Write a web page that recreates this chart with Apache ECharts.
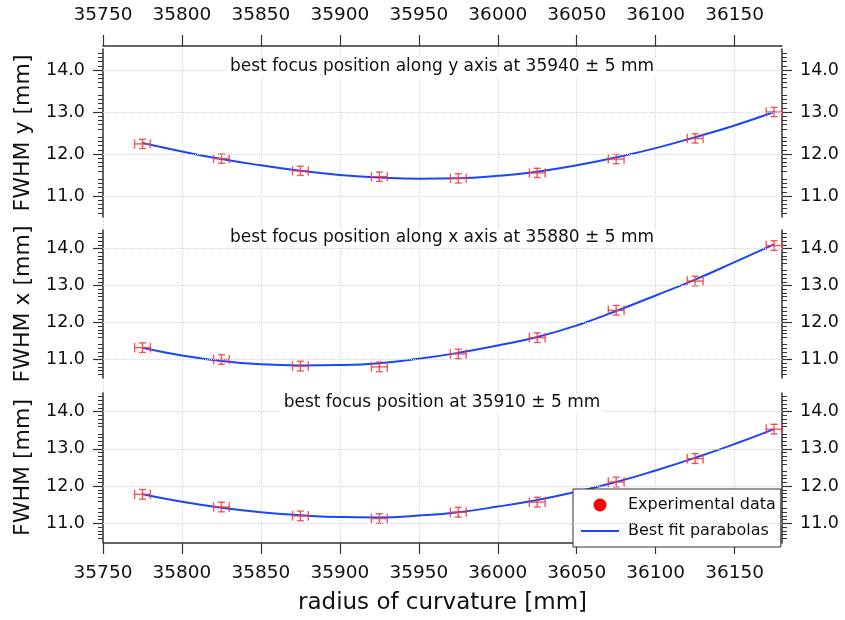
<!DOCTYPE html>
<html>
<head>
<meta charset="utf-8">
<script src="https://cdn.jsdelivr.net/npm/echarts@6/dist/echarts.min.js"></script>
<style>
  html, body { margin: 0; padding: 0; background: #fff; }
  #chart { width: 845px; height: 620px; }
</style>
</head>
<body>
<div id="chart"></div>
<script>
// measured points, radius of curvature [mm]
const radius = [35775, 35825, 35875, 35925, 35975, 36025, 36075, 36125, 36175]
const fwhmY = [12.24, 11.89, 11.60, 11.46, 11.42, 11.55, 11.88, 12.37, 13.00]
const fwhmX = [11.32, 11.00, 10.82, 10.80, 11.15, 11.59, 12.33, 13.12, 14.08]
const fwhm = [11.78, 11.44, 11.20, 11.13, 11.30, 11.57, 12.11, 12.74, 13.53]
const radiusErr = 5
const fwhmErr = [0.11, 0.13, 0.13] // one per panel

// best fit parabolas, every 25 mm
const fitRadius = [35775, 35800, 35825, 35850, 35875, 35900, 35925, 35950, 35975,
  36000, 36025, 36050, 36075, 36100, 36125, 36150, 36175]
const fitY = [12.26, 12.06, 11.88, 11.73, 11.60, 11.50, 11.44, 11.41, 11.42,
  11.48, 11.58, 11.73, 11.92, 12.14, 12.40, 12.68, 13.00]
const fitX = [11.32, 11.11, 10.96, 10.87, 10.84, 10.85, 10.90, 11.02, 11.18,
  11.38, 11.61, 11.92, 12.31, 12.73, 13.16, 13.63, 14.11]
const fit = [11.78, 11.58, 11.42, 11.30, 11.22, 11.17, 11.16, 11.21, 11.30,
  11.45, 11.63, 11.85, 12.11, 12.42, 12.76, 13.13, 13.53]

const xTicks = [35750, 35800, 35850, 35900, 35950, 36000, 36050, 36100, 36150]
const yTicks = [11, 12, 13, 14]
const panelNames = ['FWHM y [mm]', 'FWHM x [mm]', 'FWHM [mm]']
const panelNotes = [
  'best focus position along y axis at 35940 ± 5 mm',
  'best focus position along x axis at 35880 ± 5 mm',
  'best focus position at 35910 ± 5 mm'
]

const FONT = '"DejaVu Sans", sans-serif'
const INK = '#111'
const AXIS = '#333'
const GRIDLINE = '#d2d2e6'
const BLUE = '#1a45ff'

const panels = [
  { top: 49, height: 168, points: fwhmY, curve: fitY, noteY: 67 },
  { top: 230, height: 148, points: fwhmX, curve: fitX, noteY: 238 },
  { top: 393, height: 149, points: fwhm, curve: fit, noteY: 403 }
]

const chart = echarts.init(document.getElementById('chart'))

// error bar glyph |I| around each point
function errorBars(params, api) {
  const x = api.value(0)
  const y = api.value(1)
  const ex = api.value(2)
  const ey = api.value(3)
  const l = api.coord([x - ex, y])
  const r = api.coord([x + ex, y])
  const t = api.coord([x, y + ey])
  const b = api.coord([x, y - ey])
  const cx = t[0]
  const cap = 3.5
  const style = { stroke: '#f53b3b', lineWidth: 1.4, opacity: 0.85 }
  const seg = (x1, y1, x2, y2) => ({ type: 'line', shape: { x1, y1, x2, y2 }, style })
  return {
    type: 'group',
    children: [
      seg(l[0], l[1], r[0], r[1]),
      seg(l[0], t[1], l[0], b[1]),
      seg(r[0], t[1], r[0], b[1]),
      seg(cx, t[1], cx, b[1]),
      seg(cx - cap, t[1], cx + cap, t[1]),
      seg(cx - cap, b[1], cx + cap, b[1])
    ]
  }
}

const grid = panels.map(p => ({ left: 103, right: 63, top: p.top, height: p.height }))
grid.push({ left: 103, right: 63, top: 46, height: 497 }) // frame for the shared x axes

const xAxis = panels.map((p, i) => ({
  gridIndex: i, type: 'value', min: 35750, max: 36180, show: false
}))
const sharedX = {
  gridIndex: 3, type: 'value', min: 35750, max: 36180, interval: 50,
  axisLine: { onZero: false, lineStyle: { color: AXIS, width: 1.5 } },
  axisTick: { length: 11, customValues: xTicks, lineStyle: { color: AXIS, width: 1.2 } },
  axisLabel: {
    customValues: xTicks, margin: 21, fontSize: 18.5, fontFamily: FONT, color: INK,
    formatter: v => (xTicks.includes(v) ? String(v) : '')
  }
}
xAxis.push(Object.assign({}, sharedX, {
  position: 'top',
  splitLine: { show: true, lineStyle: { type: 'dotted', color: GRIDLINE } }
}))
xAxis.push(Object.assign({}, sharedX, {
  position: 'bottom',
  splitLine: { show: false },
  name: 'radius of curvature [mm]',
  nameLocation: 'middle',
  nameGap: 49,
  nameTextStyle: { fontSize: 23, fontFamily: FONT, color: INK }
}))

const yAxis = []
panels.forEach((p, i) => {
  ['left', 'right'].forEach(side => {
    yAxis.push({
      gridIndex: i, type: 'value', position: side,
      min: 10.5, max: 14.5, interval: 0.5,
      name: side === 'left' ? panelNames[i] : '',
      nameLocation: 'middle',
      nameGap: 69,
      nameTextStyle: { fontSize: 22, fontFamily: FONT, color: INK },
      axisLine: { show: true, onZero: false, lineStyle: { color: AXIS, width: 1.5 } },
      axisTick: { length: 10, customValues: yTicks, lineStyle: { color: AXIS, width: 1.2 } },
      minorTick: { show: true, splitNumber: 5, length: 5, lineStyle: { color: AXIS } },
      axisLabel: {
        customValues: yTicks, margin: 18, fontSize: 17.5, fontFamily: FONT, color: INK,
        formatter: v => (Number.isInteger(v) ? v.toFixed(1) : '')
      },
      splitLine: { show: false }
    })
  })
})
yAxis.push({ gridIndex: 3, type: 'value', min: 0, max: 1, show: false })

const series = []
panels.forEach((p, i) => {
  series.push({
    name: 'Best fit parabolas',
    type: 'line',
    xAxisIndex: i,
    yAxisIndex: 2 * i,
    data: fitRadius.map((r, k) => [r, p.curve[k]]),
    smooth: true,
    symbol: 'none',
    lineStyle: { color: BLUE, width: 2 },
    itemStyle: { color: BLUE },
    z: 3,
    markLine: {
      silent: true,
      symbol: 'none',
      label: { show: false },
      lineStyle: { type: 'dotted', color: GRIDLINE, width: 1 },
      data: yTicks.map(v => ({ yAxis: v }))
    }
  })
  series.push({
    name: 'Experimental data',
    type: 'custom',
    xAxisIndex: i,
    yAxisIndex: 2 * i,
    data: radius.map((r, k) => [r, p.points[k], radiusErr, fwhmErr[i]]),
    renderItem: errorBars,
    itemStyle: { color: '#ff0000' },
    z: 4
  })
})

chart.setOption({
  animation: false,
  grid,
  xAxis,
  yAxis,
  series,
  legend: {
    left: 573,
    top: 489,
    orient: 'vertical',
    backgroundColor: '#fff',
    borderColor: '#333',
    borderWidth: 1,
    borderRadius: 0,
    padding: [8, 5, 8, 7],
    itemGap: 10,
    itemWidth: 38,
    itemHeight: 13,
    selectedMode: false,
    textStyle: { fontSize: 16, fontFamily: FONT, color: INK, padding: [0, 0, 0, 4] },
    data: [
      { name: 'Experimental data', icon: 'circle' },
      // plain line: hide the marker the line series puts on its legend icon
      { name: 'Best fit parabolas', icon: 'inherit', itemStyle: { opacity: 0 } }
    ]
  },
  graphic: panels.map((p, i) => ({
    type: 'text',
    x: 442,
    y: p.noteY,
    z: 10,
    style: {
      text: panelNotes[i],
      align: 'center',
      verticalAlign: 'middle',
      font: '17px ' + FONT,
      fill: INK,
      backgroundColor: '#fff',
      padding: [1, 3]
    }
  }))
})
</script>
</body>
</html>
